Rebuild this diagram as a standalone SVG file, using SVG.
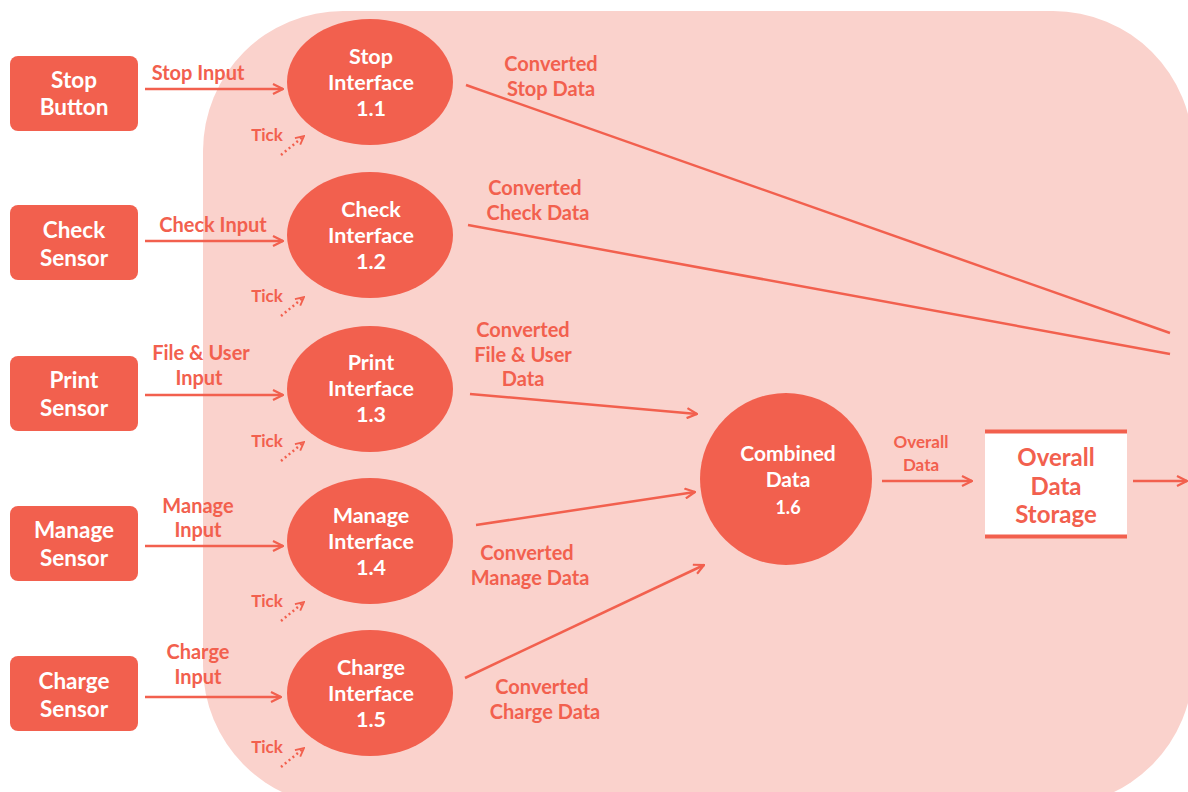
<svg xmlns="http://www.w3.org/2000/svg" width="1188" height="792" viewBox="0 0 1188 792">
<style>
  .box{fill:#F2604E}
  .proc{fill:#F2604E}
  .wt{fill:#fff;font-family:Lato,"Open Sans","Liberation Sans",sans-serif;font-weight:700;text-anchor:middle;dominant-baseline:central}
  .lb{fill:#F2604E;font-family:Lato,"Open Sans","Liberation Sans",sans-serif;font-weight:700;text-anchor:middle;dominant-baseline:central}
  .ln{stroke:#F2604E;stroke-width:2.5;fill:none}
  .dot{stroke:#F2604E;stroke-width:2.5;fill:none;stroke-dasharray:2 3}
</style>
<defs>
  <marker id="ah" viewBox="0 0 12 12" refX="11" refY="6" markerWidth="12" markerHeight="12" markerUnits="userSpaceOnUse" orient="auto">
    <path d="M1,1 L11,6 L1,11" fill="none" stroke="#F2604E" stroke-width="2.2"/>
  </marker>
  <marker id="ahs" viewBox="0 0 12 12" refX="11" refY="6" markerWidth="10" markerHeight="10" markerUnits="userSpaceOnUse" orient="auto">
    <path d="M1,1 L11,6 L1,11" fill="none" stroke="#F2604E" stroke-width="2.2"/>
  </marker>
</defs>
<rect width="1188" height="792" fill="#fff"/>
<rect id="boundary" x="203" y="11" width="990" height="795" rx="140" ry="140" fill="#FAD2CC"/>

<g id="connectors">
  <line class="ln" x1="145" y1="89" x2="283" y2="89" marker-end="url(#ah)"/>
  <line class="ln" x1="145" y1="241" x2="283" y2="241" marker-end="url(#ah)"/>
  <line class="ln" x1="145" y1="395" x2="283" y2="395" marker-end="url(#ah)"/>
  <line class="ln" x1="145" y1="546" x2="283" y2="546" marker-end="url(#ah)"/>
  <line class="ln" x1="145" y1="697" x2="281" y2="697" marker-end="url(#ah)"/>
  <line class="dot" x1="281" y1="155" x2="304" y2="136" marker-end="url(#ahs)"/>
  <line class="dot" x1="281" y1="316" x2="304" y2="297" marker-end="url(#ahs)"/>
  <line class="dot" x1="281" y1="461" x2="304" y2="442" marker-end="url(#ahs)"/>
  <line class="dot" x1="281" y1="621" x2="304" y2="602" marker-end="url(#ahs)"/>
  <line class="dot" x1="281" y1="767" x2="304" y2="748" marker-end="url(#ahs)"/>
  <line class="ln" x1="466" y1="85" x2="1170" y2="333"/>
  <line class="ln" x1="468" y1="225" x2="1170" y2="354"/>
  <line class="ln" x1="470" y1="394" x2="697" y2="414" marker-end="url(#ah)"/>
  <line class="ln" x1="476" y1="525" x2="695" y2="492" marker-end="url(#ah)"/>
  <line class="ln" x1="465" y1="678" x2="704" y2="565" marker-end="url(#ah)"/>
  <line class="ln" x1="882" y1="481" x2="972" y2="481" marker-end="url(#ah)"/>
  <line class="ln" x1="1133" y1="481" x2="1187" y2="481" marker-end="url(#ah)"/>
  <text class="lb" font-size="20" x="198" y="72">Stop Input</text>
  <text class="lb" font-size="20" x="213" y="224">Check Input</text>
  <text class="lb" font-size="20" x="201" y="352">File &amp; User</text>
  <text class="lb" font-size="20" x="199" y="377">Input</text>
  <text class="lb" font-size="20" x="198" y="505">Manage</text>
  <text class="lb" font-size="20" x="198" y="529">Input</text>
  <text class="lb" font-size="20" x="198" y="651">Charge</text>
  <text class="lb" font-size="20" x="198" y="676">Input</text>
  <text class="lb" font-size="17" x="267" y="134">Tick</text>
  <text class="lb" font-size="17" x="267" y="295">Tick</text>
  <text class="lb" font-size="17" x="267" y="440">Tick</text>
  <text class="lb" font-size="17" x="267" y="600">Tick</text>
  <text class="lb" font-size="17" x="267" y="746">Tick</text>
  <text class="lb" font-size="20" x="551" y="63">Converted</text>
  <text class="lb" font-size="20" x="551" y="88">Stop Data</text>
  <text class="lb" font-size="20" x="535" y="187">Converted</text>
  <text class="lb" font-size="20" x="538" y="212">Check Data</text>
  <text class="lb" font-size="20" x="523" y="329">Converted</text>
  <text class="lb" font-size="20" x="523" y="354">File &amp; User</text>
  <text class="lb" font-size="20" x="523" y="378">Data</text>
  <text class="lb" font-size="20" x="527" y="552">Converted</text>
  <text class="lb" font-size="20" x="530" y="577">Manage Data</text>
  <text class="lb" font-size="20" x="542" y="686">Converted</text>
  <text class="lb" font-size="20" x="545" y="711">Charge Data</text>
  <text class="lb" font-size="17" x="921" y="441">Overall</text>
  <text class="lb" font-size="17" x="921" y="464">Data</text>
</g>

<g id="stop-button">
  <rect class="box" x="10" y="56" width="128" height="75" rx="8"/>
  <text class="wt" font-size="22.5" x="74" y="79">Stop</text>
  <text class="wt" font-size="22.5" x="74" y="106">Button</text>
</g>
<g id="check-sensor">
  <rect class="box" x="10" y="205" width="128" height="75" rx="8"/>
  <text class="wt" font-size="22.5" x="74" y="229">Check</text>
  <text class="wt" font-size="22.5" x="74" y="257">Sensor</text>
</g>
<g id="print-sensor">
  <rect class="box" x="10" y="356" width="128" height="75" rx="8"/>
  <text class="wt" font-size="22.5" x="74" y="379">Print</text>
  <text class="wt" font-size="22.5" x="74" y="407">Sensor</text>
</g>
<g id="manage-sensor">
  <rect class="box" x="10" y="506" width="128" height="75" rx="8"/>
  <text class="wt" font-size="22.5" x="74" y="529">Manage</text>
  <text class="wt" font-size="22.5" x="74" y="557">Sensor</text>
</g>
<g id="charge-sensor">
  <rect class="box" x="10" y="656" width="128" height="75" rx="8"/>
  <text class="wt" font-size="22.5" x="74" y="680">Charge</text>
  <text class="wt" font-size="22.5" x="74" y="708">Sensor</text>
</g>

<g id="p11">
  <ellipse class="proc" cx="370" cy="82" rx="83" ry="63"/>
  <text class="wt" font-size="21.5" x="371" y="56">Stop</text>
  <text class="wt" font-size="21.5" x="371" y="82">Interface</text>
  <text class="wt" font-size="21.5" x="371" y="108">1.1</text>
</g>
<g id="p12">
  <ellipse class="proc" cx="370" cy="235" rx="83" ry="63"/>
  <text class="wt" font-size="21.5" x="371" y="209">Check</text>
  <text class="wt" font-size="21.5" x="371" y="235">Interface</text>
  <text class="wt" font-size="21.5" x="371" y="261">1.2</text>
</g>
<g id="p13">
  <ellipse class="proc" cx="370" cy="389" rx="83" ry="63"/>
  <text class="wt" font-size="21.5" x="371" y="362">Print</text>
  <text class="wt" font-size="21.5" x="371" y="388">Interface</text>
  <text class="wt" font-size="21.5" x="371" y="414">1.3</text>
</g>
<g id="p14">
  <ellipse class="proc" cx="370" cy="541" rx="83" ry="63"/>
  <text class="wt" font-size="21.5" x="371" y="515">Manage</text>
  <text class="wt" font-size="21.5" x="371" y="541">Interface</text>
  <text class="wt" font-size="21.5" x="371" y="567">1.4</text>
</g>
<g id="p15">
  <ellipse class="proc" cx="370" cy="693" rx="83" ry="63"/>
  <text class="wt" font-size="21.5" x="371" y="667">Charge</text>
  <text class="wt" font-size="21.5" x="371" y="693">Interface</text>
  <text class="wt" font-size="21.5" x="371" y="719">1.5</text>
</g>
<g id="p16">
  <circle class="proc" cx="786" cy="479" r="86"/>
  <text class="wt" font-size="21" x="788" y="452">Combined</text>
  <text class="wt" font-size="21" x="788" y="478">Data</text>
  <text class="wt" font-size="18" x="788" y="507">1.6</text>
</g>
<g id="storage">
  <rect x="985" y="432" width="142" height="105" fill="#fff"/>
  <line x1="985" y1="431.5" x2="1127" y2="431.5" stroke="#F2604E" stroke-width="4"/>
  <line x1="985" y1="536.5" x2="1127" y2="536.5" stroke="#F2604E" stroke-width="4"/>
  <text class="lb" font-size="24" x="1056" y="456">Overall</text>
  <text class="lb" font-size="24" x="1056" y="485">Data</text>
  <text class="lb" font-size="24" x="1056" y="513">Storage</text>
</g>
</svg>
